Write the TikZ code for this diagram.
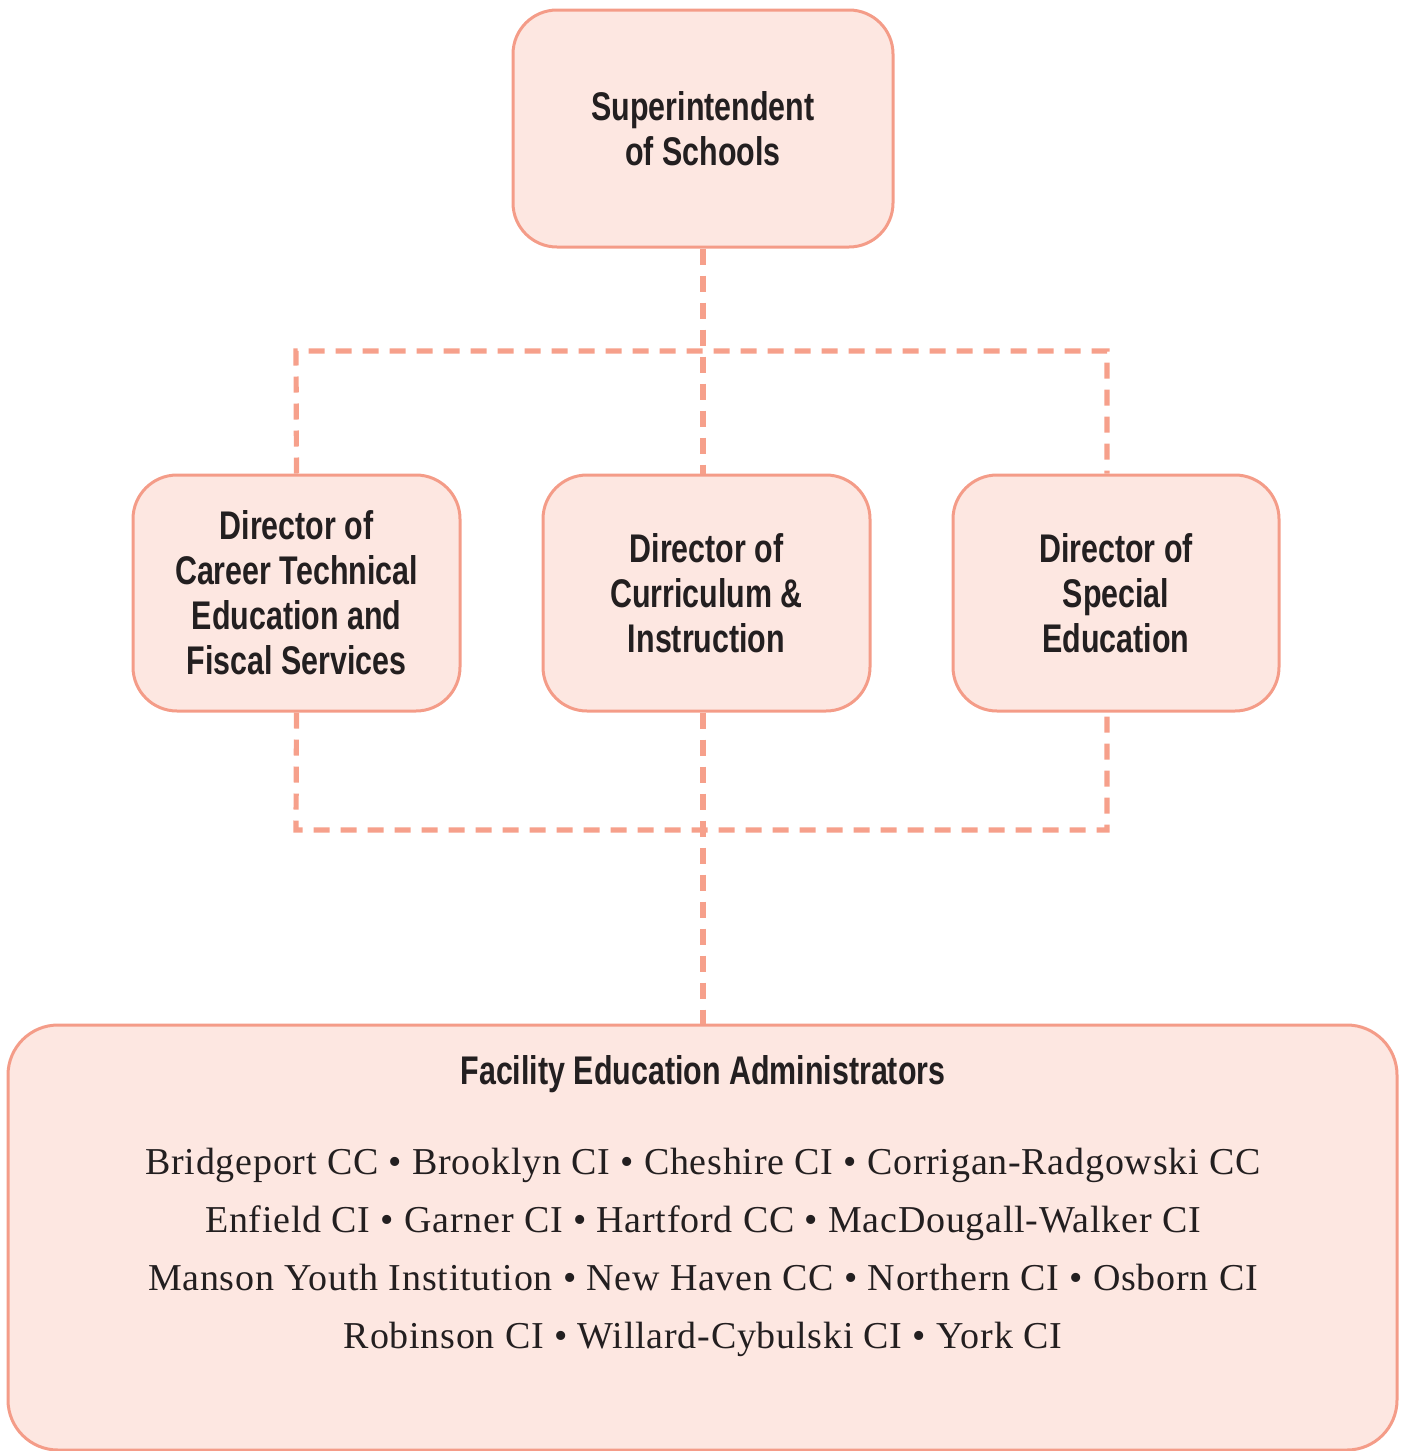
\documentclass[tikz,border=0pt]{standalone}
\usepackage{fontspec}
\setmainfont{Liberation Serif}[LetterSpace=2]
\newfontfamily\headfont[FakeStretch=0.76]{Liberation Sans}
\usepackage{xcolor}
\definecolor{BoxLine}{HTML}{F49C88}
\definecolor{BoxFill}{HTML}{FDE7E1}
\definecolor{LinkLine}{HTML}{F6A08B}
\definecolor{InkDark}{HTML}{231F20}
\usepackage{tikz}
\usetikzlibrary{calc,positioning}

\tikzset{
  orgbox/.style={draw=BoxLine, fill=BoxFill, line width=1.5pt, rounded corners=22pt,
    align=center, text=InkDark, font=\headfont\bfseries\fontsize{20}{22.5}\selectfont,
    inner sep=0pt},
  link/.style={draw=LinkLine, line width=2.6pt, dash pattern=on 8pt off 5.5pt}
}

\begin{document}
\begin{tikzpicture}[x=0.5pt, y=-0.5pt]
        \useasboundingbox (0,0) rectangle (1405,1451);

        % boxes
        \node[orgbox, minimum width=190pt, minimum height=118.5pt] (sup) at (703,128.5) {Superintendent\\of Schools};
        \node[orgbox, minimum width=163.5pt, minimum height=118pt] (cte) at (296.5,593) {Director of\\Career Technical\\Education and\\Fiscal Services};
        \node[orgbox, minimum width=163.5pt, minimum height=118pt] (cur) at (706.5,593) {Director of\\Curriculum \&\\Instruction};
        \node[orgbox, minimum width=163pt, minimum height=118pt] (spe) at (1116,593) {Director of\\Special\\Education};
        \node[orgbox, rounded corners=25pt, minimum width=694.5pt, minimum height=212.5pt] (fea) at (702.5,1237.5) {};

        \node[text=InkDark, font=\headfont\bfseries\fontsize{20}{22.5}\selectfont] (feahead) at (703,1074) {Facility Education Administrators};
        \node[text=InkDark, align=center, font=\fontsize{19}{29}\selectfont] (fealist) at (703,1252)
          {Bridgeport CC \textbullet{} Brooklyn CI \textbullet{} Cheshire CI \textbullet{} Corrigan-Radgowski CC\\
           Enfield CI \textbullet{} Garner CI \textbullet{} Hartford CC \textbullet{} MacDougall-Walker CI\\
           Manson Youth Institution \textbullet{} New Haven CC \textbullet{} Northern CI \textbullet{} Osborn CI\\
           Robinson CI \textbullet{} Willard-Cybulski CI \textbullet{} York CI};

        % dashed links
        \coordinate (tl) at (296,351);
        \coordinate (tr) at (1107,351);
        \coordinate (bl) at (296,830);
        \coordinate (br) at (1107,830);

        \draw[link] (cte.north) -- (tl) -- (tr) -- (tr |- spe.north);
        \draw[link] (sup.south) -- (sup.south |- cur.north);
        \draw[link] (cte.south) -- (bl) -- (br) -- (br |- spe.south);
        \draw[link] (sup.south |- cur.south) -- (sup.south |- fea.north);
    \end{tikzpicture}
\end{document}
